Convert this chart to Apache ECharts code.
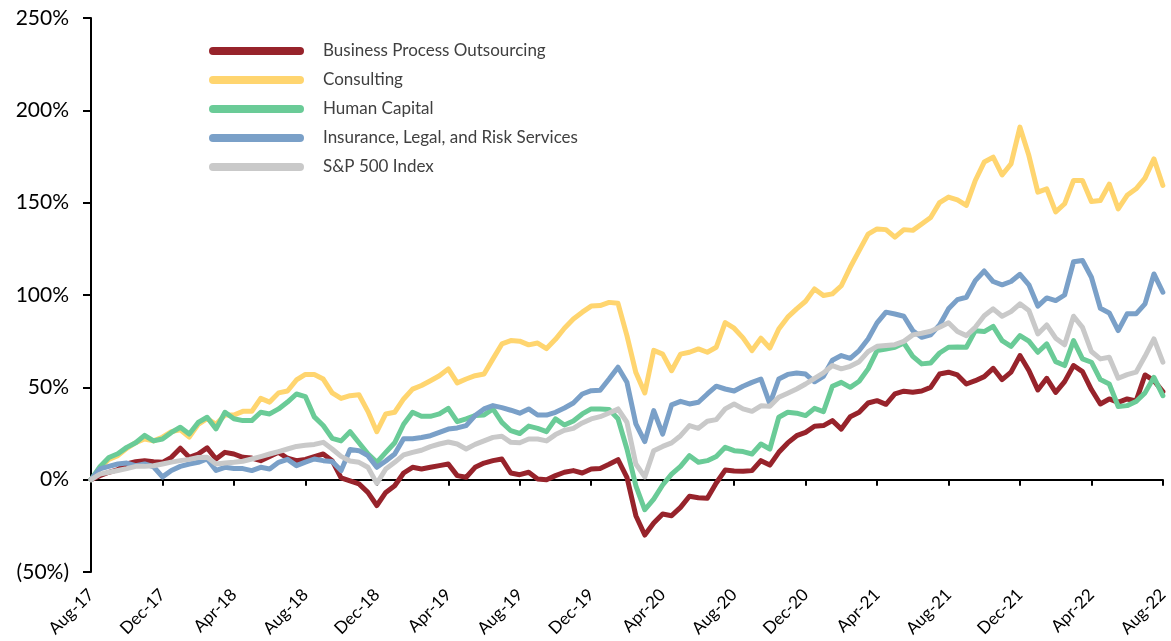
<!DOCTYPE html>
<html>
<head>
  <meta charset="UTF-8">
  <title>Segment Returns vs S&P 500</title>
  <script src="https://cdn.jsdelivr.net/npm/echarts@6/dist/echarts.min.js"></script>
  <style>
    body { margin: 0; padding: 0; background: #fff; }
    #chart { width: 1171px; height: 641px; }
  </style>
</head>
<body>
  <div id="chart"></div>
  <script>
    // x tick labels, one every 4 months starting Aug-17
    var tickLabels = ['Aug-17', 'Dec-17', 'Apr-18', 'Aug-18', 'Dec-18', 'Apr-19', 'Aug-19', 'Dec-19',
      'Apr-20', 'Aug-20', 'Dec-20', 'Apr-21', 'Aug-21', 'Dec-21', 'Apr-22', 'Aug-22'];

    // samples every half month from Aug-17 (month 0) to Aug-22 (month 60), cumulative return in %
    var bpo = [
      0, 2.2, 4, 5.4, 8.5, 9.7, 10.3, 9.7,
      9.4, 12.1, 17, 12.1, 13.9, 17.2, 11.2, 14.8,
      13.9, 12.1, 11.7, 10.3, 12.6, 14.8, 11.6, 10.3,
      11, 12.5, 13.9, 10.3, 1, -0.7, -2.3, -6.9,
      -14, -6.9, -3.3, 3.6, 6.7, 5.8, 6.7, 7.6,
      8.5, 2.2, 1.3, 6.7, 9, 10.3, 11.2, 3.6,
      2.7, 4, 0.4, 0, 2.2, 4, 4.9, 3.6,
      5.8, 6.1, 8.3, 10.8, 1.3, -19.5, -30, -23.5,
      -18.6, -19.5, -15, -9, -9.8, -10.1, -1.8, 5.2,
      4.7, 4.5, 4.9, 10.3, 7.9, 14.8, 19.9, 23.8,
      25.6, 28.9, 29.3, 32, 27.4, 34.1, 36.5, 41.5,
      42.8, 40.8, 46.4, 47.9, 47.3, 48, 50, 57.2,
      58.2, 56.7, 51.8, 53.6, 55.8, 60.3, 54.2, 58.2,
      67.2, 59.1, 48.6, 54.9, 47.3, 53.1, 61.8, 58.5,
      48.8, 41, 43.7, 41.9, 43.7, 42.6, 56.7, 53.6,
      47.7
    ];
    var consulting = [
      0, 6, 11, 13, 17, 20, 22, 21,
      23, 26, 27, 23, 30, 33, 30, 35,
      35, 37, 37, 44, 42, 47, 48, 54,
      57, 57, 54.5, 47, 44, 45.5, 46, 37,
      26, 35.6, 36.5, 43.7, 49, 51, 53.6, 56.3,
      60, 52.4, 54.5, 56.3, 57.2, 65.4, 73.5, 75.3,
      75, 73, 74, 71, 76, 82, 87, 90.7,
      94, 94.3, 96, 95.5, 78, 58, 47, 70,
      68, 59, 68, 69, 70.8, 69, 71.7, 85,
      82, 76.8, 69.9, 76.6, 71.3, 81.6, 88, 92.5,
      96.6, 103.3, 99.7, 100.6, 105, 115, 124, 133,
      135.8, 135.4, 131.3, 135.4, 135, 138.5, 142, 150,
      153, 151.5, 148.5, 162, 172, 174.6, 165, 171,
      190.9, 175.5, 155.7, 157.5, 145, 149.4, 162, 162,
      150.6, 151.2, 160, 146.6, 154, 157.5, 163.3, 173.7,
      159.3
    ];
    var humanCapital = [
      0, 7, 12, 14, 17.5, 20, 24, 21,
      22, 25.6, 28.4, 24.7, 31, 33.8, 27.5, 36.5,
      33, 32, 32, 36.5, 35.6, 38.3, 42, 46.4,
      45, 34, 29.3, 22.4, 21, 26, 20, 14,
      9.4, 14.8, 20, 30, 36.5, 34.3, 34.3, 35.6,
      38.6, 31.4, 32.9, 34.7, 35, 38.3, 31, 26.5,
      25, 29, 27.8, 26, 32.9, 29.6, 31.8, 35.6,
      38.3, 38.3, 38, 33, 16.6, -3.3, -16.3, -10.5,
      -2.9, 3, 7.2, 13, 9.4, 10.3, 12.6, 17.5,
      15.7, 15.2, 13.9, 19.3, 16.6, 33.8, 36.5, 36,
      34.7, 38.6, 36.8, 50.6, 52.7, 50, 53.3, 60,
      69.9, 70.8, 71.7, 74, 66.8, 62.7, 63.2, 68.6,
      71.7, 71.9, 71.7, 80.7, 80.2, 83, 75.3, 72.2,
      78, 75, 69, 73.5, 63.9, 61.8, 75.3, 65.4,
      63.6, 54.2, 51.8, 39.6, 40.1, 42.3, 47, 55.4,
      45.5
    ];
    var insurance = [
      0, 5.8, 7.2, 8.5, 9, 7.6, 8.5, 7,
      1.5, 5, 7.2, 8.5, 9.4, 11.2, 5, 6.7,
      6.1, 6, 4.9, 6.7, 5.8, 9.4, 11, 7.6,
      9.5, 11.2, 10.3, 9.8, 4.9, 16.3, 15.7, 13,
      6.7, 10.1, 13.9, 22.2, 22.2, 22.8, 23.8, 25.6,
      27.4, 28, 29.3, 34.7, 38.3, 40.1, 39, 37.6,
      36, 38.3, 35, 35, 36.5, 38.8, 41.5, 46.4,
      48.2, 48.4, 54.5, 60.9, 52.7, 30.2, 20.6, 37.4,
      24.7, 40.5, 42.4, 41, 41.9, 46.4, 50.6, 49.1,
      48, 50.6, 52.7, 54.5, 41, 54.5, 57, 57.8,
      57.2, 53, 56, 64.7, 67.2, 65.7, 69.9, 76.2,
      84.9, 90.7, 89.7, 88.5, 80.7, 77.1, 78.4, 83.8,
      92.5, 97.5, 98.8, 107.8, 113, 107.3, 105.5, 107.3,
      111.2, 105.5, 94, 98.4, 97, 100, 118, 118.7,
      109.6, 92.8, 90.3, 80.7, 89.8, 89.8, 95.2, 111.4,
      101.5
    ];
    var sp500 = [
      0, 3, 4, 5, 6, 7.2, 7.2, 7.5,
      8.5, 9.5, 10.3, 11, 12, 12.1, 8.5, 9,
      9.4, 10, 11.2, 12.5, 13.9, 15.2, 16.6, 18,
      18.6, 19.1, 20.2, 16.6, 12.6, 10.1, 9.4, 6.7,
      -2, 5.8, 9.4, 13.4, 14.8, 15.9, 17.9, 19.3,
      20.4, 19.3, 16.6, 19.1, 21, 22.9, 23.5, 20.2,
      20, 22, 22, 21, 24.4, 26.7, 27.8, 30.7,
      32.9, 34.1, 36.1, 38.3, 31.1, 8.5, 1.5, 15.7,
      18, 19.9, 23.8, 29.3, 27.8, 31.6, 32.5, 38.3,
      41, 38.3, 37, 40, 39.7, 44.6, 46.8, 49.1,
      51.8, 54.9, 57.8, 61.8, 60, 61.4, 63.9, 69.3,
      72.2, 72.6, 73.1, 74.9, 78.4, 79.3, 80.4, 82.5,
      85, 80.2, 78, 82.5, 88.8, 92.5, 88.5, 91,
      95.2, 91.6, 78.9, 83.8, 76.6, 73, 88.5, 82.5,
      69.4, 65.4, 66.3, 54.9, 56.9, 58.2, 66.8, 76.2,
      63.6
    ];

    var names = ['Business Process Outsourcing', 'Consulting', 'Human Capital',
      'Insurance, Legal, and Risk Services', 'S&P 500 Index'];
    var colors = ['#97232b', '#ffd56f', '#6acb97', '#7aa0c8', '#c9c9c9'];
    var seriesData = [bpo, consulting, humanCapital, insurance, sp500];

    var stepMonths = 0.5;
    function toPairs(arr) {
      return arr.map(function (v, i) { return [i * stepMonths, v]; });
    }

    var font = 'Lato, "Open Sans", sans-serif';

    var chart = echarts.init(document.getElementById('chart'), null, { renderer: 'canvas' });

    var option = {
      animation: false,
      backgroundColor: '#fff',
      color: colors,
      grid: { left: 91, right: 6, top: 18, bottom: 69, containLabel: false },
      legend: {
        orient: 'vertical',
        left: 209,
        top: 41,
        padding: 0,
        itemWidth: 95,
        itemHeight: 8,
        itemGap: 9,
        icon: 'path://M4,0L91,0A4,4,0,0,1,91,8L4,8A4,4,0,0,1,4,0Z',
        textStyle: {
          fontFamily: font,
          fontSize: 17,
          color: '#404040',
          lineHeight: 20,
          padding: [0, 0, 0, 14]
        },
        data: names
      },
      xAxis: [
        {
          type: 'value',
          min: 0,
          max: 60,
          interval: 4,
          axisLine: { onZero: true, lineStyle: { color: '#000', width: 2 } },
          axisTick: { show: true, length: 6, lineStyle: { color: '#000', width: 2 } },
          axisLabel: { show: false },
          splitLine: { show: false }
        },
        {
          type: 'value',
          position: 'bottom',
          min: 0,
          max: 60,
          interval: 4,
          axisLine: { show: false, onZero: false },
          axisTick: { show: false },
          splitLine: { show: false },
          axisLabel: {
            rotate: 45,
            margin: 20,
            fontFamily: font,
            fontSize: 17,
            color: '#000',
            formatter: function (v) { return tickLabels[Math.round(v / 4)] || ''; }
          }
        }
      ],
      yAxis: {
        type: 'value',
        min: -50,
        max: 250,
        interval: 50,
        axisLine: { show: true, lineStyle: { color: '#000', width: 2 } },
        axisTick: { show: true, length: 8, lineStyle: { color: '#000', width: 2 } },
        splitLine: { show: false },
        axisLabel: {
          margin: 22,
          fontFamily: font,
          fontSize: 21,
          color: '#000',
          formatter: function (v) { return v < 0 ? '(' + Math.abs(v) + '%)' : v + '%'; }
        }
      },
      series: names.map(function (n, k) {
        return {
          name: n,
          type: 'line',
          xAxisIndex: 0,
          showSymbol: false,
          symbol: 'none',
          data: toPairs(seriesData[k]),
          lineStyle: { width: 5, color: colors[k], join: 'round', cap: 'round' },
          itemStyle: { color: colors[k] },
          z: 2 + k
        };
      })
    };

    chart.setOption(option);
  </script>
</body>
</html>
